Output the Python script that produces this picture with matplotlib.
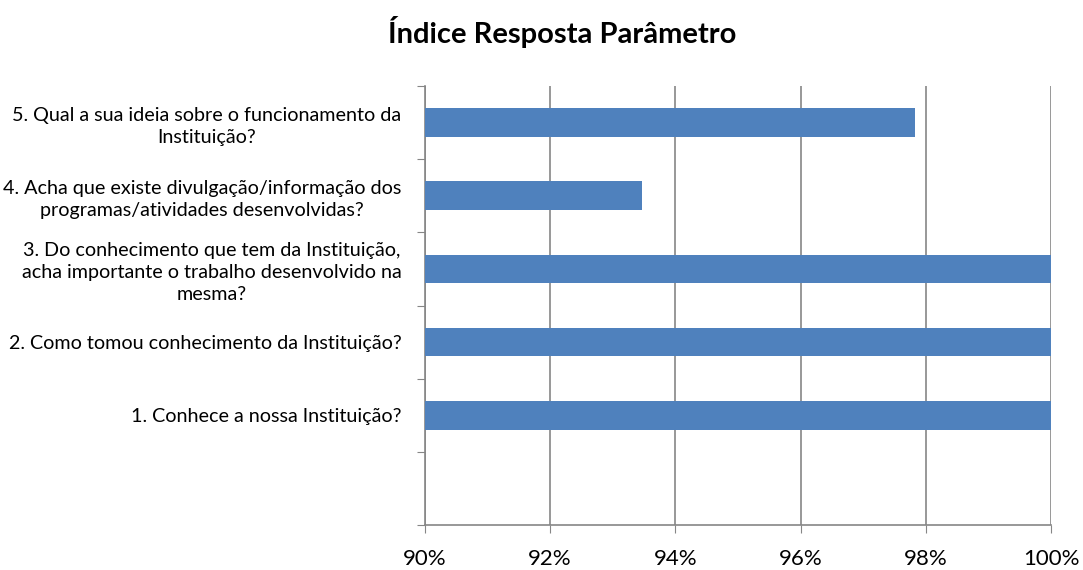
import numpy as np
import matplotlib.pyplot as plt
from matplotlib.ticker import FixedLocator, PercentFormatter

plt.rcParams['font.family'] = ['Lato', 'DejaVu Sans']

# dados (de baixo para cima; a primeira posicao fica vazia)
perguntas = [
    "",
    "1. Conhece a nossa Instituição?",
    "2. Como tomou conhecimento da Instituição?",
    "3. Do conhecimento que tem da Instituição,\nacha importante o trabalho desenvolvido na\nmesma?",
    "4. Acha que existe divulgação/informação dos\nprogramas/atividades desenvolvidas?",
    "5. Qual a sua ideia sobre o funcionamento da\nInstituição?",
]
valores = [np.nan, 100.0, 100.0, 100.0, 93.47, 97.83]
ticks_x = [90, 92, 94, 96, 98, 100]

cor_barra = "#4F81BD"
cor_grade = "#868686"

fig = plt.figure(figsize=(10.83, 5.7), dpi=100)
ax = fig.add_axes([0.3924, 0.0789, 0.9705 - 0.3924, 0.8491 - 0.0789])

y = np.arange(len(perguntas))
ax.barh(y, valores, height=0.39, color=cor_barra, zorder=3)

ax.set_xlim(90, 100)
ax.set_ylim(-0.5, len(perguntas) - 0.5)

ax.set_xticks(ticks_x)
ax.xaxis.set_major_formatter(PercentFormatter(decimals=0))
ax.tick_params(axis="x", length=6, color=cor_grade, labelsize=16, pad=11)

# ticks nas fronteiras, rotulos no centro
ax.yaxis.set_major_locator(FixedLocator(np.arange(-0.5, len(perguntas), 1.0)))
ax.yaxis.set_minor_locator(FixedLocator(y))
ax.set_yticklabels([], minor=False)
ax.set_yticklabels(perguntas, minor=True, multialignment="center",
                   fontsize=14.2, linespacing=1.35)
ax.tick_params(axis="y", which="major", length=6, color=cor_grade)
ax.tick_params(axis="y", which="minor", length=0, pad=17)

ax.grid(axis="x", color=cor_grade, linewidth=1.2, zorder=0)
for lado in ["top", "right"]:
    ax.spines[lado].set_visible(False)
for lado in ["left", "bottom"]:
    ax.spines[lado].set_color(cor_grade)
    ax.spines[lado].set_linewidth(1.2)

fig.text(0.519, 0.944, "Índice Resposta Parâmetro", ha="center", va="center",
         fontsize=21, fontweight="bold")

fig.savefig("out.png", dpi=100)
